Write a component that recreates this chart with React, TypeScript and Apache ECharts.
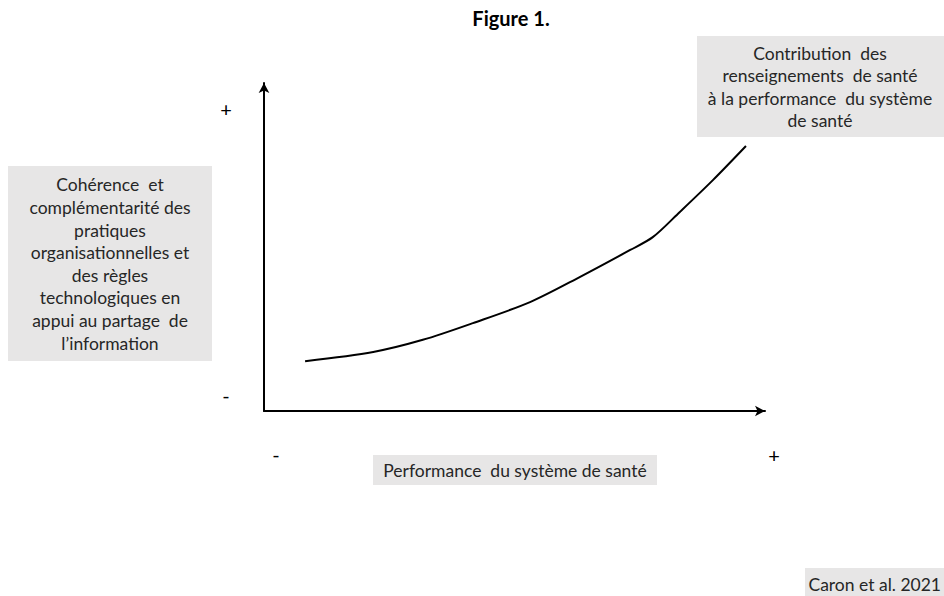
import React, { useEffect, useRef } from "react";
import * as echarts from "echarts";

const curveX = [8.2, 21.8, 31.7, 41.7, 53.1, 63.1, 73.1, 77.6, 83.0, 89.6, 96.2];
const curveY = [15.2, 18.0, 21.7, 26.8, 33.2, 40.9, 49.1, 53.0, 60.7, 70.4, 80.8];

const titleText = "Figure 1.";
const yAxisBoxLines = [
  "Cohérence  et",
  "complémentarité des",
  "pratiques",
  "organisationnelles et",
  "des règles",
  "technologiques en",
  "appui au partage  de",
  "l’information",
];
const curveBoxLines = [
  "Contribution  des",
  "renseignements  de santé",
  "à la performance  du système",
  "de santé",
];
const xAxisBoxText = "Performance  du système de santé";
const sourceText = "Caron et al. 2021";
const plusSign = "+";
const minusSign = "-";

const FONT = "Lato, 'Open Sans', sans-serif";
const GRAY = "#e7e6e6";
const TXT = "#262626";
const FS = 17.5;

export default function App() {
  const ref = useRef<HTMLDivElement>(null);
  useEffect(() => {
    if (!ref.current) return;
    const chart = echarts.init(ref.current, undefined, { renderer: "svg" });
    const axisCommon = {
      type: "value" as const,
      min: 0,
      max: 100,
      axisLine: {
        show: true,
        symbol: ["none", "arrow"],
        symbolSize: [8, 10],
        lineStyle: { color: "#000", width: 2 },
      },
      axisTick: { show: false },
      axisLabel: { show: false },
      splitLine: { show: false },
    };
    const sign = (t: string, x: number, y: number) => ({
      type: "text",
      x,
      y,
      style: {
        text: t,
        font: `20px ${FONT}`,
        fill: "#000",
        textAlign: "center",
        textVerticalAlign: "middle",
      },
    });
    chart.setOption({
      animation: false,
      backgroundColor: "#ffffff",
      grid: { left: 264, right: 179, top: 83, bottom: 185 },
      xAxis: { ...axisCommon },
      yAxis: { ...axisCommon },
      series: [
        {
          type: "line",
          data: curveX.map((x, i) => [x, curveY[i]]),
          smooth: 0.3,
          showSymbol: false,
          lineStyle: { color: "#000", width: 2 },
          silent: true,
        },
      ],
      graphic: [
        {
          type: "text",
          x: 511,
          y: 18,
          style: {
            text: titleText,
            font: `bold 20px ${FONT}`,
            fill: "#000",
            textAlign: "center",
            textVerticalAlign: "middle",
          },
        },
        {
          type: "rect",
          shape: { x: 8, y: 166, width: 204, height: 195 },
          style: { fill: GRAY },
        },
        {
          type: "text",
          x: 110,
          y: 264,
          style: {
            text: yAxisBoxLines.join("\n"),
            font: `${FS}px ${FONT}`,
            lineHeight: 22.6,
            fill: TXT,
            textAlign: "center",
            textVerticalAlign: "middle",
          },
        },
        {
          type: "rect",
          shape: { x: 697, y: 36, width: 260, height: 101 },
          style: { fill: GRAY },
        },
        {
          type: "text",
          x: 820,
          y: 87,
          style: {
            text: curveBoxLines.join("\n"),
            font: `${FS}px ${FONT}`,
            lineHeight: 22.3,
            fill: TXT,
            textAlign: "center",
            textVerticalAlign: "middle",
          },
        },
        {
          type: "rect",
          shape: { x: 373, y: 455, width: 284, height: 30 },
          style: { fill: GRAY },
        },
        {
          type: "text",
          x: 515,
          y: 470,
          style: {
            text: xAxisBoxText,
            font: `${FS}px ${FONT}`,
            fill: TXT,
            textAlign: "center",
            textVerticalAlign: "middle",
          },
        },
        {
          type: "rect",
          shape: { x: 805, y: 568, width: 150, height: 40 },
          style: { fill: GRAY },
        },
        {
          type: "text",
          x: 941,
          y: 584,
          style: {
            text: sourceText,
            font: `${FS}px ${FONT}`,
            fill: TXT,
            textAlign: "right",
            textVerticalAlign: "middle",
          },
        },
        sign(plusSign, 226, 109),
        sign(minusSign, 226, 395),
        sign(minusSign, 276, 454),
        sign(plusSign, 774, 455),
      ],
    });
    return () => chart.dispose();
  }, []);
  return (
    <div
      ref={ref}
      style={{ position: "absolute", left: 0, top: 0, width: 944, height: 596, background: "#fff" }}
    />
  );
}
